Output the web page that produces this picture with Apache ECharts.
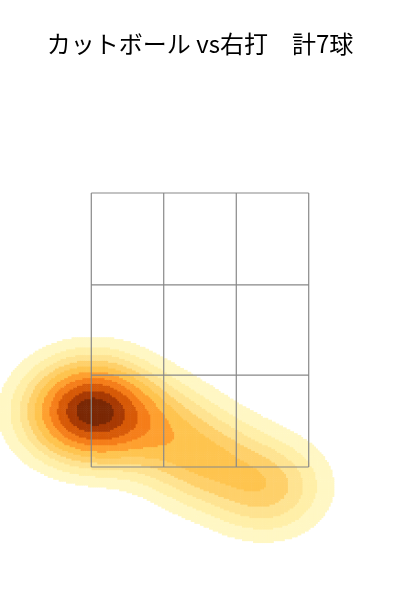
<!DOCTYPE html>
<html><head><meta charset="utf-8">
<script src="https://cdn.jsdelivr.net/npm/echarts@6/dist/echarts.min.js"></script>
<style>html,body{margin:0;padding:0;background:#fff}#c{width:400px;height:600px}</style>
</head><body><div id="c"></div>
<script>
const title = 'カットボール vs右打　計7球';
const pitchX = [-0.86, -0.72, -0.79, -0.95, -0.32, 0.05, 0.50];
const pitchY = [1.93, 1.87, 1.97, 1.88, 1.78, 1.55, 1.36];
const zoneXs = [-0.83, -0.277, 0.277, 0.83];
const zoneYs = [1.5, 2.17, 2.83, 3.5];
const levelColors = ['#fff7c4','#ffefa8','#fee391','#fed06a','#fec44f','#fea030','#f57e1a','#d75a08','#a83a04','#7a2805'];
const levelThresholds = [0.04,0.09,0.15,0.22,0.30,0.40,0.52,0.64,0.78,0.9];

const bwX = 0.27, bwY = 0.21, step = 0.014;
const xMin = -1.527, xMax = 1.527, yMin = 0.529, yMax = 4.325;
function dens(x, y) {
  let s = 0;
  for (let i = 0; i < pitchX.length; i++) {
    const dx = (x - pitchX[i]) / bwX, dy = (y - pitchY[i]) / bwY;
    s += Math.exp(-0.5 * (dx * dx + dy * dy));
  }
  return s;
}
const raw = []; let mx = 0;
for (let x = xMin; x < xMax; x += step)
  for (let y = yMin; y < yMax; y += step) {
    const d = dens(x + step / 2, y + step / 2);
    mx = Math.max(mx, d);
    raw.push([x, y, d]);
  }
const cells = [];
raw.forEach(r => {
  const f = r[2] / mx; let lvl = -1;
  for (let k = 0; k < levelThresholds.length; k++) if (f >= levelThresholds[k]) lvl = k;
  if (lvl >= 0) cells.push([r[0], r[1], lvl]);
});
const zoneLines = [];
zoneXs.forEach(x => { zoneLines.push([x, zoneYs[0]], [x, zoneYs[3]], null); });
zoneYs.forEach(y => { zoneLines.push([zoneXs[0], y], [zoneXs[3], y], null); });
const lineData = zoneLines.map(p => p ? p : ['-', '-']);

const chart = echarts.init(document.getElementById('c'));
chart.setOption({
  animation: false,
  title: { text: title, left: 'center', top: 27, textStyle: { fontFamily: 'Noto Sans CJK JP', fontSize: 24, fontWeight: 'normal', color: '#000' } },
  grid: { left: 0, right: 0, top: 80, bottom: 0 },
  xAxis: { type: 'value', min: xMin, max: xMax, show: false },
  yAxis: { type: 'value', min: yMin, max: yMax, show: false },
  series: [
    { type: 'custom', data: cells, silent: true,
      renderItem: (params, api) => {
        const p = api.coord([api.value(0), api.value(1) + step]);
        const s = api.size([step, step]);
        return { type: 'rect', shape: { x: p[0], y: p[1], width: s[0] + 0.6, height: s[1] + 0.6 },
                 style: { fill: levelColors[api.value(2)] } };
      } },
    { type: 'line', data: lineData, connectNulls: false, symbol: 'none', silent: true,
      lineStyle: { color: '#888', width: 1.2 } }
  ]
});
</script></body></html>
